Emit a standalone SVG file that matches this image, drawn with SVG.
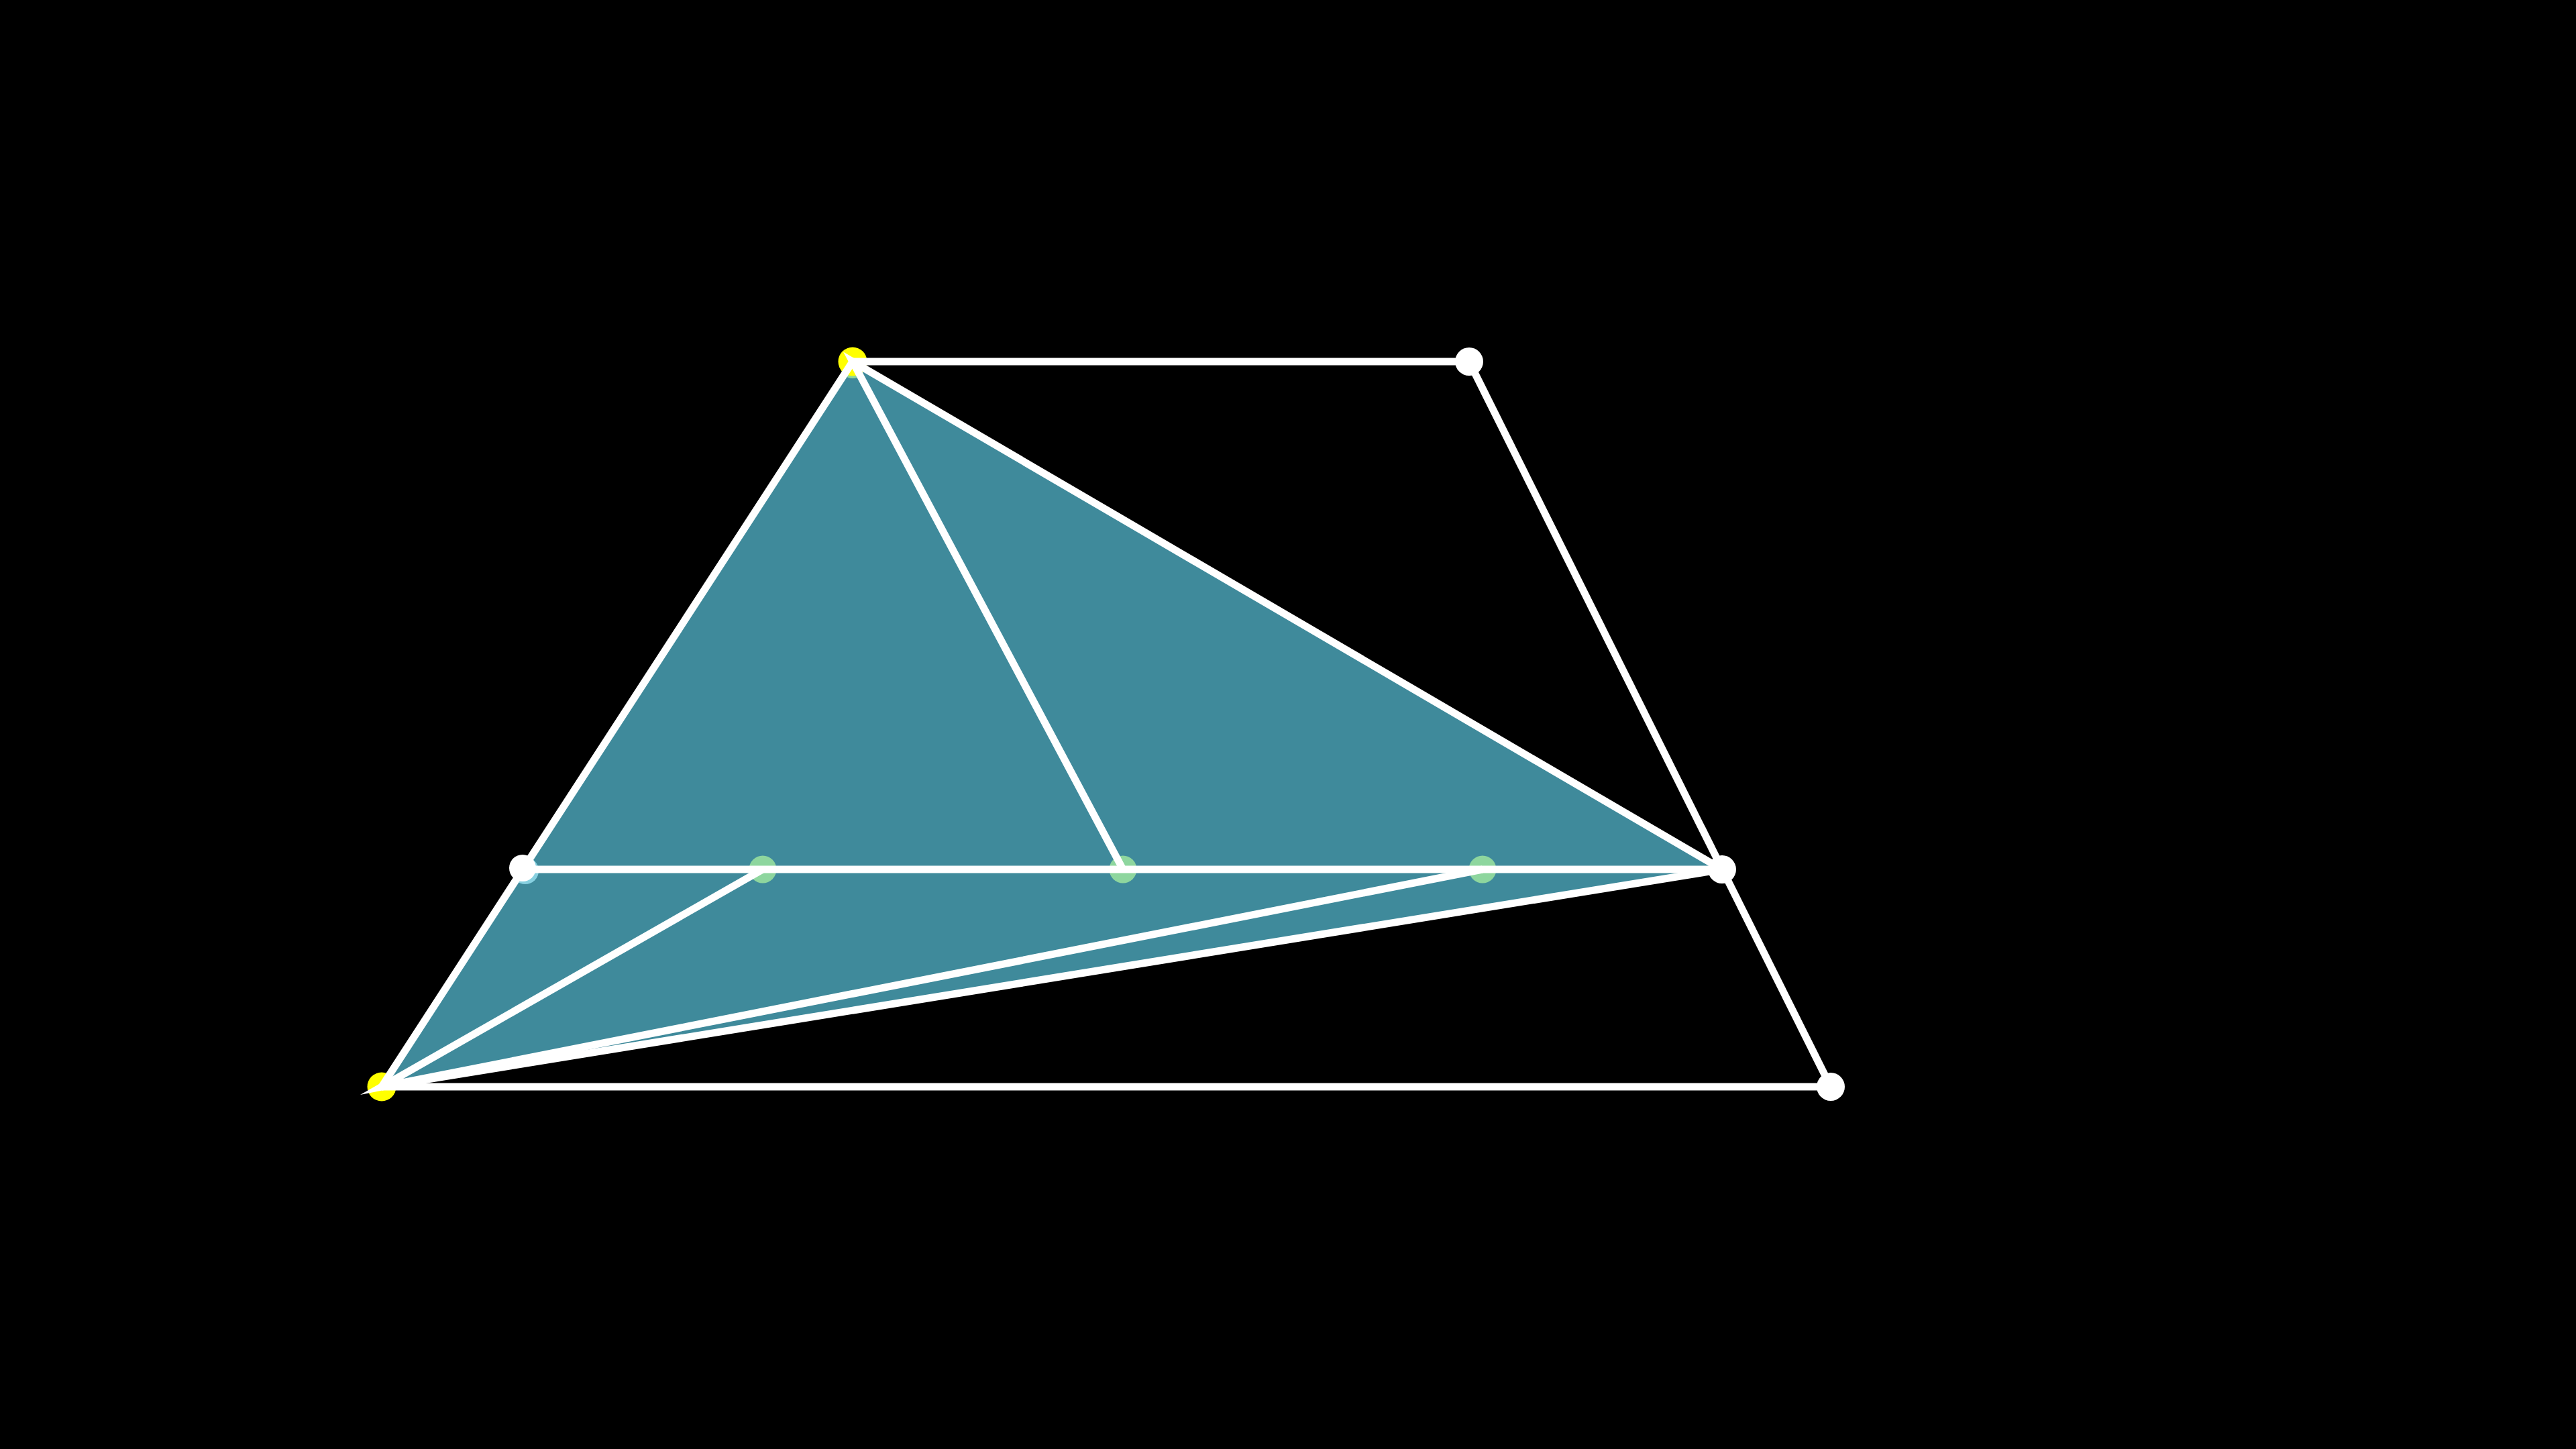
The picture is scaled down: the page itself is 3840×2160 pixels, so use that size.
<svg xmlns="http://www.w3.org/2000/svg" width="3840" height="2160" viewBox="0 0 3840 2160">
  <style>
    .edge { stroke: #ffffff; stroke-width: 11; fill: none; stroke-linecap: butt; }
    .joint { stroke: #ffffff; stroke-width: 11; fill: none; stroke-linejoin: miter; stroke-miterlimit: 10; }
    .white { fill: #ffffff; }
    .yellow { fill: #ffff00; }
    .green { fill: #8ed69e; }
    .blue { fill: #87d0e0; }
  </style>
  <rect x="0" y="0" width="3840" height="2160" fill="#000000"/>
  <g id="region">
    <polygon points="569,1620 1271,539 2567,1296" fill="#3f8a9b"/>
  </g>
  <g id="markers-under">
    <g id="node-A-green"><circle class="green" cx="1271" cy="546" r="18"/></g>
    <g id="node-A"><circle class="yellow" cx="1271" cy="539" r="21.5"/></g>
    <g id="node-E"><circle class="yellow" cx="569" cy="1620" r="21.5"/></g>
    <g id="node-G"><circle class="green" cx="1137" cy="1296" r="20.5"/></g>
    <g id="node-H"><circle class="green" cx="1674" cy="1296" r="20.5"/></g>
    <g id="node-I"><circle class="green" cx="2210" cy="1296" r="20.5"/></g>
    <g id="node-F-blue"><circle class="blue" cx="783" cy="1298" r="20"/></g>
  </g>
  <g id="connectors">
    <line class="edge" x1="1271" y1="539" x2="2190" y2="539"/>
    <line class="edge" x1="2190" y1="539" x2="2729" y2="1620"/>
    <line class="edge" x1="569" y1="1620" x2="2729" y2="1620"/>
    <line class="edge" x1="569" y1="1620" x2="1271" y2="539"/>
    <line class="edge" x1="779" y1="1296" x2="2567" y2="1296"/>
    <line class="edge" x1="569" y1="1620" x2="2567" y2="1296"/>
    <path class="joint" d="M1674 1296 L1271 539 L2567 1296"/>
    <path class="joint" d="M1137 1296 L569 1620 L2210 1296"/>
  </g>
  <g id="markers-over">
    <g id="node-F"><circle class="white" cx="779" cy="1294" r="20"/></g>
    <g id="node-B"><circle class="white" cx="2190" cy="539" r="21"/></g>
    <g id="node-C"><circle class="white" cx="2567" cy="1296" r="21"/></g>
    <g id="node-D"><circle class="white" cx="2729" cy="1620" r="21"/></g>
  </g>
</svg>
